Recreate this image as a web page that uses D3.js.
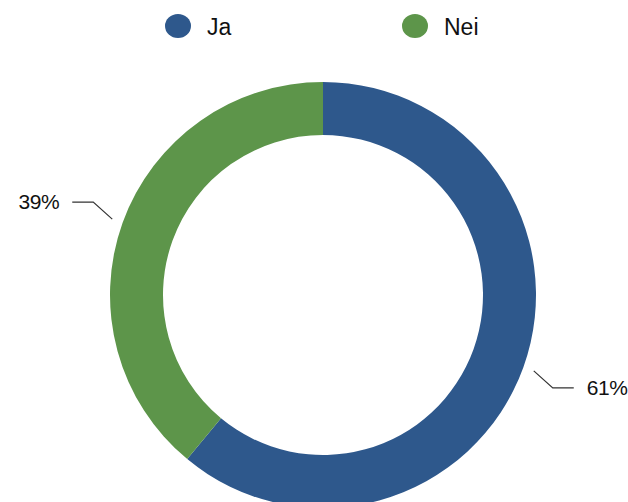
<!DOCTYPE html>
<html><head><meta charset="utf-8">
<script src="https://cdn.jsdelivr.net/npm/d3@7"></script>
<style>html,body{margin:0;padding:0;background:#fff;}svg{display:block;}</style>
</head><body>
<script>
const categories = ["Ja", "Nei"];
const values = [61, 39];
const colors = ["#2e588c", "#5d954a"];
const labels = ["61%", "39%"];

const W = 628, H = 502;
const cx = 323, cy = 295, rOuter = 213, rInner = 160;
const font = "'Liberation Sans', Arial, Helvetica, sans-serif";

const svg = d3.select("body").append("svg").attr("width", W).attr("height", H);

const pie = d3.pie().sort(null).value(d => d)(values);
const arc = d3.arc().innerRadius(rInner).outerRadius(rOuter);
const g = svg.append("g").attr("transform", `translate(${cx},${cy})`);
g.selectAll("path.slice").data(pie).join("path")
  .attr("class", "slice")
  .attr("d", arc)
  .attr("fill", (d, i) => colors[i]);

// leader lines + labels
pie.forEach((d, i) => {
  const a = (d.startAngle + d.endAngle) / 2;
  const r0 = rOuter + 11;
  const sx = Math.sin(a) >= 0 ? 1 : -1;
  const sy = -Math.cos(a) >= 0 ? 1 : -1;
  const p0 = [Math.sin(a) * r0, -Math.cos(a) * r0];
  const p1 = [p0[0] + sx * 19, p0[1] + sy * 17];
  const p2 = [p1[0] + sx * 21, p1[1]];
  g.append("polyline")
    .attr("points", [p0, p1, p2].map(p => p.join(",")).join(" "))
    .attr("fill", "none").attr("stroke", "#333").attr("stroke-width", 1.2);
  g.append("text")
    .attr("x", p2[0] + sx * 13).attr("y", p2[1])
    .attr("dy", "0.35em")
    .attr("text-anchor", sx > 0 ? "start" : "end")
    .attr("font-family", font).attr("font-size", 21).attr("fill", "#111")
    .attr("letter-spacing", "-0.4")
    .text(labels[i]);
});

// legend
const legendX = [178, 415];
const leg = svg.append("g");
categories.forEach((c, i) => {
  leg.append("ellipse").attr("cx", legendX[i]).attr("cy", 26).attr("rx", 13).attr("ry", 12)
    .attr("fill", colors[i]);
  leg.append("text").attr("x", legendX[i] + 29).attr("y", 27).attr("dy", "0.35em")
    .attr("font-family", font).attr("font-size", 23).attr("fill", "#111").text(c);
});
</script>
</body></html>
